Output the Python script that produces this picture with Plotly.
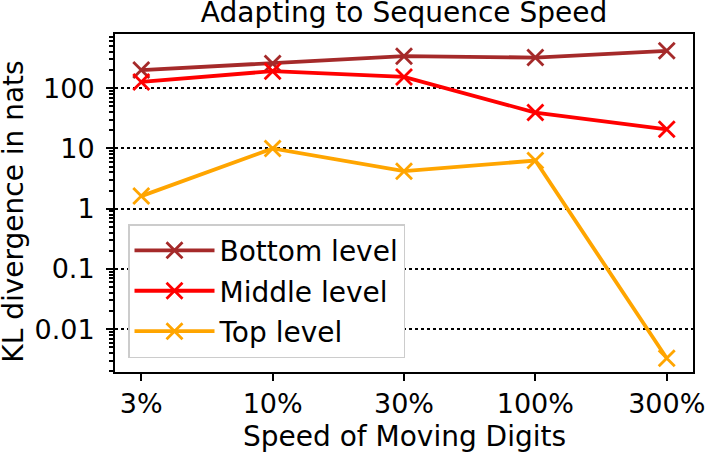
import plotly.graph_objects as go

speeds = ["3%", "10%", "30%", "100%", "300%"]
bottom_level = [200, 257, 340, 323, 417]
middle_level = [127, 192, 154, 39.5, 20.8]
top_level = [1.62, 10, 4.2, 6.3, 0.0033]

y_ticks = [0.01, 0.1, 1, 10, 100]
y_ticklabels = ["0.01", "0.1", "1", "10", "100"]

series = [
    ("Bottom level", bottom_level, "#a52a2a"),
    ("Middle level", middle_level, "#ff0000"),
    ("Top level", top_level, "#ffa500"),
]

font = "DejaVu Sans"

fig = go.Figure()
for name, vals, col in series:
    fig.add_trace(go.Scatter(
        x=speeds, y=vals, name=name, legendgroup=name, mode="lines+markers",
        line=dict(color=col, width=3.8),
        marker=dict(symbol="x-thin", size=16, line=dict(color=col, width=2.8)),
    ))

# minor ticks on the log axis (2..9 in each decade)
minor_vals = [m * 10 ** e for e in range(-3, 3) for m in range(2, 10)]

fig.update_layout(
    width=706, height=455,
    margin=dict(l=115, r=13, t=34, b=83, autoexpand=False),
    plot_bgcolor="white", paper_bgcolor="white",
    font=dict(family=font, size=27, color="black"),
    title=dict(text="Adapting to Sequence Speed", x=0.5, xref="paper",
               y=0.973, yref="container", yanchor="middle",
               font=dict(size=28)),
    legend=dict(x=0.0225, y=0.041, xanchor="left", yanchor="bottom",
                bgcolor="white", bordercolor="#cccccc", borderwidth=1.5,
                font=dict(size=28), tracegroupgap=1, itemwidth=80),
    showlegend=True,
    annotations=[
        dict(text="Speed of Moving Digits", xref="paper", yref="paper",
             x=0.5, y=-0.1923, xanchor="center", yanchor="middle",
             showarrow=False, font=dict(size=28)),
        dict(text="KL divergence in nats", xref="paper", yref="paper",
             x=-0.176, y=0.475, xanchor="center", yanchor="middle",
             textangle=-90, showarrow=False, font=dict(size=28)),
    ],
)
fig.update_xaxes(
    type="category", range=[-0.2, 4.2], automargin=False,
    showline=True, linecolor="black", linewidth=2, mirror=True,
    ticks="outside", ticklen=7, tickwidth=2, tickcolor="black",
    tickfont=dict(size=27),
    showgrid=False, zeroline=False,
)
fig.update_yaxes(
    type="log", range=[-2.71, 2.90], automargin=False,
    tickvals=y_ticks, ticktext=y_ticklabels, tickfont=dict(size=27),
    ticklabelstandoff=6,
    showline=True, linecolor="black", linewidth=2, mirror=True,
    ticks="outside", ticklen=7, tickwidth=2, tickcolor="black",
    showgrid=True, gridcolor="black", gridwidth=1.5, griddash="dot",
    minor=dict(tickvals=minor_vals, ticks="outside", ticklen=4, tickwidth=1.5,
               tickcolor="black", showgrid=False),
    zeroline=False,
)

# drop the default 8px page margin so the figure sits at the window corner
fig.write_html("out.html", config={"displayModeBar": False},
               post_script="document.body.style.margin='0';")
